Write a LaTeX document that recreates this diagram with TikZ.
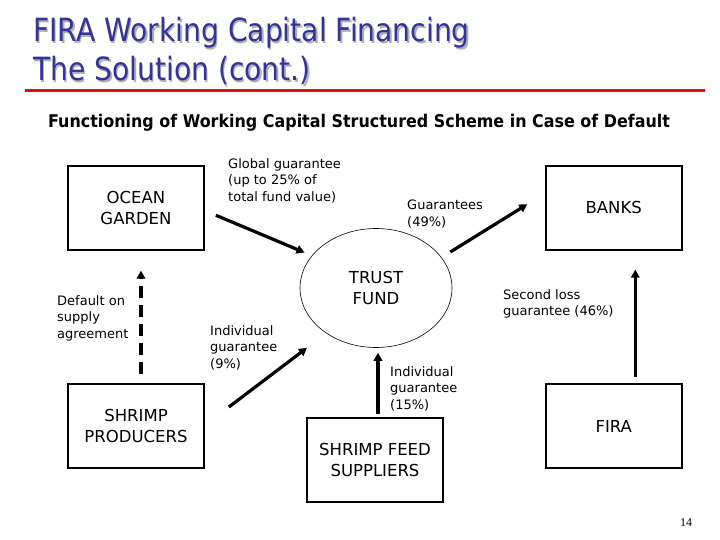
\documentclass[tikz,border=0pt]{standalone}
\usepackage{fontspec}
\setmainfont{DejaVu Sans}
\newfontfamily\titlefont[FakeStretch=0.88]{DejaVu Sans}
\newfontfamily\subfont[FakeStretch=0.91]{DejaVu Sans Bold}
\newfontfamily\pagefont{Liberation Serif}
\usepackage{tikz}
\usetikzlibrary{arrows.meta,positioning,shapes.geometric}
\definecolor{slideblue}{HTML}{333399}
\definecolor{slidered}{HTML}{E01010}
\definecolor{shadowgray}{HTML}{B0B0B0}

\begin{document}
\begin{tikzpicture}[x=1pt,y=-1pt,
    acteur/.style  = {draw,line width=1.8pt,minimum width=136pt,minimum height=84pt,
                      align=center,font=\fontsize{16.5}{20.5}\selectfont},
    fonds/.style   = {ellipse,draw,line width=0.6pt,minimum width=152pt,minimum height=119pt,
                      align=center,font=\fontsize{16.5}{20.5}\selectfont},
    legende/.style = {anchor=north west,inner sep=0pt,align=left,
                      font=\fontsize{13}{16.5}\selectfont},
    flux/.style    = {line width=3.2pt,-{Triangle[length=8pt,width=8.5pt]}},
    titre/.style   = {anchor=base west,inner sep=0pt,font=\titlefont\fontsize{32}{38}\selectfont},
  ]
  \useasboundingbox (0,0) rectangle (720,540);

  % Slide heading
  \foreach \ty/\ttxt in {42/{FIRA Working Capital Financing},81/{The Solution (cont.)}}
  {
    \node[titre,text=shadowgray] at (34.5,\ty+1.5) {\ttxt};
    \node[titre,text=slideblue]  at (33,\ty)       {\ttxt};
  }
  \draw[slidered,line width=3pt] (25,91) -- (705,91);
  \node[anchor=base,inner sep=0pt,font=\subfont\fontsize{17.5}{21}\selectfont] (soustitre) at (359,128)
    {Functioning of Working Capital Structured Scheme in Case of Default};

  % Actors
  \node[acteur] (ocean)     at (136,207.75)    {OCEAN\\GARDEN};
  \node[acteur] (banks)     at (613.75,207.75) {BANKS};
  \node[acteur] (producers) at (136,426)       {SHRIMP\\PRODUCERS};
  \node[acteur] (fira)      at (613.75,426)    {FIRA};
  \node[acteur] (feed)      at (375,460)       {SHRIMP FEED\\SUPPLIERS};
  \node[fonds]  (trust)     at (376,288)       {TRUST\\FUND};

  % Guarantee flows
  \draw[flux] ([shift={(11,7.5)}]ocean.east) -- ([shift={(-10,0)}]trust.150);
  \draw[flux] ([shift={(-2,-36)}]trust.east) -- ([shift={(-17.5,-3.5)}]banks.west);
  \draw[flux] ([shift={(24,-19)}]producers.east) -- ([shift={(-69,0)}]trust.south);
  \draw[flux] ([shift={(3,-3)}]feed.north) -- ([shift={(2,5)}]trust.south);
  \draw[flux] ([shift={(21.5,-6)}]fira.north) -- ([shift={(21.5,19)}]banks.south);
  \draw[flux,dash pattern=on 12pt off 7pt] ([shift={(5,-9)}]producers.north) -- ([shift={(5,20)}]ocean.south);

  % Labels
  \node[legende] (lglobal)  at (228,158) {Global guarantee\\(up to 25\% of\\total fund value)};
  \node[legende] (lbanks)   at (407,200) {Guarantees\\(49\%)};
  \node[legende] (ldefault) at (57,295)  {Default on\\supply\\agreement};
  \node[legende] (lprod)    at (210,325) {Individual\\guarantee\\(9\%)};
  \node[legende] (lfeed)    at (390,366) {Individual\\guarantee\\(15\%)};
  \node[legende] (lfira)    at (503,289) {Second loss\\guarantee (46\%)};

  \node[anchor=base,inner sep=0pt,font=\pagefont\fontsize{12}{14}\selectfont] (page) at (686,526) {14};
\end{tikzpicture}
\end{document}
